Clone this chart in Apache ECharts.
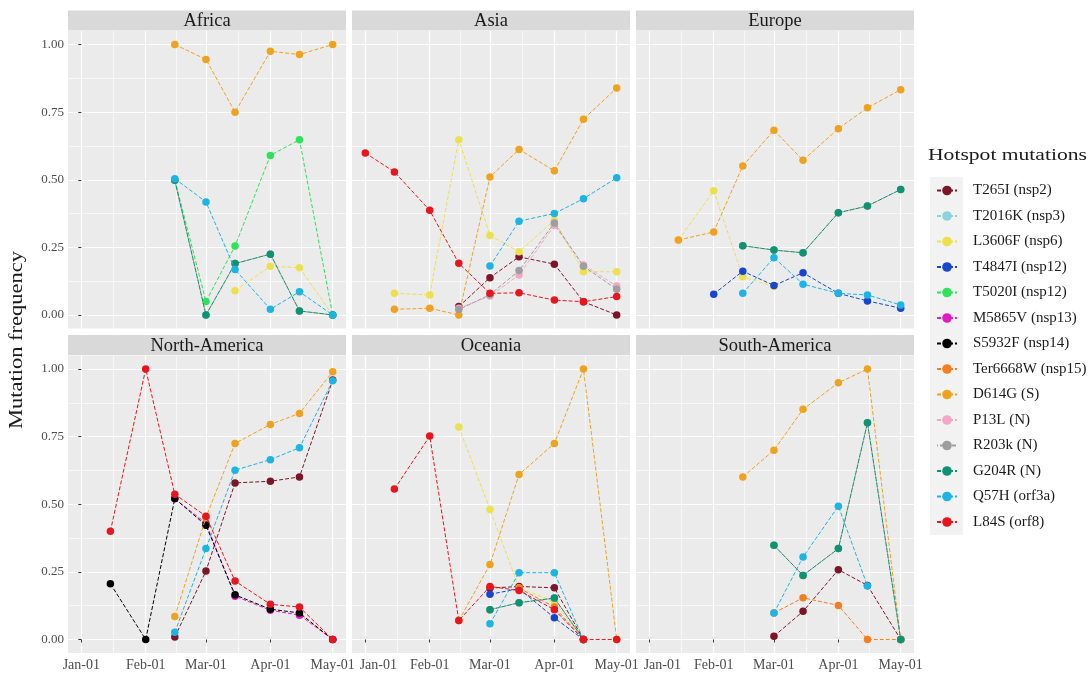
<!DOCTYPE html>
<html><head><meta charset="utf-8">
<script src="https://cdn.jsdelivr.net/npm/echarts@6/dist/echarts.min.js"></script>
<style>html,body{margin:0;padding:0;background:#fff}#c{width:1088px;height:673px}</style>
</head><body><div id="c"></div>
<script>
// Sampling dates (2020), expressed as days after Jan-01
const sampleDays = [0, 14, 31, 45, 60, 74, 91, 105, 121]; // Jan-01 Jan-15 Feb-01 Feb-15 Mar-01 Mar-15 Apr-01 Apr-15 May-01
const majorTickDays = [0, 31, 60, 91, 121];
const majorTickLabels = ['Jan-01', 'Feb-01', 'Mar-01', 'Apr-01', 'May-01'];
const minorTickDays = [15.5, 45.5, 75.5, 106];
const yTicks = [0, 0.25, 0.5, 0.75, 1];
const yMinorTicks = [0.125, 0.375, 0.625, 0.875];

const regions = ['Africa', 'Asia', 'Europe', 'North-America', 'Oceania', 'South-America'];
const mutations = ['T265I (nsp2)', 'T2016K (nsp3)', 'L3606F (nsp6)', 'T4847I (nsp12)', 'T5020I (nsp12)',
  'M5865V (nsp13)', 'S5932F (nsp14)', 'Ter6668W (nsp15)', 'D614G (S)', 'P13L (N)', 'R203k (N)',
  'G204R (N)', 'Q57H (orf3a)', 'L84S (orf8)'];
const mutationColors = ['#7E1428', '#8ED2DC', '#EDE04E', '#1745D0', '#2EE25A', '#E11BC6', '#000000',
  '#F57E22', '#F0A21E', '#F4A6C6', '#9E9E9E', '#0C9472', '#1CB4E2', '#E8141E'];

const N = null;
const africa = {
  'L3606F (nsp6)':  [N, N, N, N, N, 0.09, 0.18, 0.175, 0.0],
  'T5020I (nsp12)': [N, N, N, 0.50, 0.05, 0.255, 0.59, 0.648, 0.0],
  'D614G (S)':      [N, N, N, 1.00, 0.945, 0.75, 0.975, 0.963, 1.00],
  'R203k (N)':      [N, N, N, 0.498, 0.0, 0.19, 0.225, 0.015, 0.0],
  'G204R (N)':      [N, N, N, 0.498, 0.0, 0.19, 0.225, 0.015, 0.0],
  'Q57H (orf3a)':   [N, N, N, 0.504, 0.418, 0.168, 0.021, 0.086, 0.0]
};
const asia = {
  'T265I (nsp2)':  [N, N, N, 0.031, 0.138, 0.215, 0.188, 0.049, 0.0],
  'L3606F (nsp6)': [N, 0.08, 0.074, 0.648, 0.294, 0.234, 0.35, 0.16, 0.16],
  'D614G (S)':     [N, 0.021, 0.025, 0.0, 0.51, 0.612, 0.533, 0.724, 0.839],
  'P13L (N)':      [N, N, N, 0.025, 0.07, 0.148, 0.331, 0.185, 0.107],
  'R203k (N)':     [N, N, N, 0.02, 0.075, 0.164, 0.34, 0.18, 0.095],
  'Q57H (orf3a)':  [N, N, N, N, 0.181, 0.347, 0.375, 0.43, 0.507],
  'L84S (orf8)':   [0.599, 0.529, 0.387, 0.191, 0.08, 0.082, 0.055, 0.049, 0.068]
};
const europe = {
  'L3606F (nsp6)':  [N, 0.277, 0.459, 0.141, 0.105, N, N, N, N],
  'T4847I (nsp12)': [N, N, 0.077, 0.162, 0.109, 0.156, 0.08, 0.052, 0.025],
  'D614G (S)':      [N, 0.277, 0.307, 0.551, 0.683, 0.572, 0.689, 0.766, 0.833],
  'R203k (N)':      [N, N, N, 0.256, 0.24, 0.23, 0.378, 0.403, 0.464],
  'G204R (N)':      [N, N, N, 0.256, 0.24, 0.23, 0.378, 0.403, 0.464],
  'Q57H (orf3a)':   [N, N, N, 0.08, 0.212, 0.114, 0.08, 0.074, 0.037]
};
const northAmerica = {
  'T265I (nsp2)':   [N, N, N, 0.009, 0.253, 0.579, 0.585, 0.601, 0.959],
  'M5865V (nsp13)': [N, N, N, 0.52, 0.43, 0.16, 0.108, 0.09, 0.0],
  'S5932F (nsp14)': [N, 0.206, 0.0, 0.521, 0.422, 0.165, 0.112, 0.098, 0.0],
  'D614G (S)':      [N, N, N, 0.085, 0.451, 0.725, 0.795, 0.836, 0.99],
  'Q57H (orf3a)':   [N, N, N, 0.027, 0.336, 0.626, 0.665, 0.709, 0.957],
  'L84S (orf8)':    [N, 0.4, 1.0, 0.537, 0.456, 0.216, 0.13, 0.12, 0.0]
};
const oceania = {
  'T265I (nsp2)':     [N, N, N, N, 0.19, 0.196, 0.191, 0.0, N],
  'L3606F (nsp6)':    [N, N, N, 0.786, 0.481, 0.19, 0.14, 0.0, N],
  'T4847I (nsp12)':   [N, N, N, N, 0.167, 0.188, 0.08, 0.0, N],
  'Ter6668W (nsp15)': [N, N, N, N, N, 0.19, 0.12, 0.0, N],
  'D614G (S)':        [N, N, N, 0.07, 0.277, 0.61, 0.725, 1.0, 0.0],
  'R203k (N)':        [N, N, N, N, 0.11, 0.136, 0.153, 0.0, N],
  'G204R (N)':        [N, N, N, N, 0.11, 0.136, 0.153, 0.0, N],
  'Q57H (orf3a)':     [N, N, N, N, 0.058, 0.247, 0.247, 0.0, N],
  'L84S (orf8)':      [N, 0.556, 0.752, 0.07, 0.196, 0.181, 0.11, 0.0, 0.0]
};
const southAmerica = {
  'T265I (nsp2)':     [N, N, N, N, 0.012, 0.104, 0.258, 0.2, 0.0],
  'Ter6668W (nsp15)': [N, N, N, N, 0.098, 0.154, 0.126, 0.0, 0.0],
  'D614G (S)':        [N, N, N, 0.601, 0.7, 0.851, 0.949, 1.0, 0.0],
  'R203k (N)':        [N, N, N, N, 0.348, 0.237, 0.336, 0.801, 0.0],
  'G204R (N)':        [N, N, N, N, 0.348, 0.237, 0.336, 0.801, 0.0],
  'Q57H (orf3a)':     [N, N, N, N, 0.098, 0.305, 0.493, 0.198, N]
};
const regionData = [africa, asia, europe, northAmerica, oceania, southAmerica];

// ---- layout ----
const FONT = 'Liberation Serif';
const colLeft = [68, 352, 636];
const panelW = 278;
const rowTop = [31, 355.5];
const panelH = 297.5;
const stripH = 20;

const grids = [], xAxes = [], yAxes = [], series = [], graphics = [];

graphics.push({ type: 'rect', shape: { x: 930, y: 177, width: 33, height: 358 }, style: { fill: '#F2F2F2' }, silent: true });

regions.forEach((reg, r) => {
  const col = r % 3, row = Math.floor(r / 3);
  const left = colLeft[col], top = rowTop[row];
  grids.push({ left: left, top: top, width: panelW, height: panelH, show: true,
    backgroundColor: '#EBEBEB', borderWidth: 0, containLabel: false });
  const isBottom = row === 1, isLeft = col === 0;
  xAxes.push({ type: 'value', gridIndex: r, min: -6.4, max: 127.4, position: 'bottom',
    axisLine: { show: false },
    axisTick: { show: isBottom, customValues: majorTickDays, length: 3, lineStyle: { color: '#333', width: 1 } },
    axisLabel: { show: isBottom, customValues: majorTickDays, margin: 5, color: '#4D4D4D', fontFamily: FONT, fontSize: 14,
      formatter: v => {
        const lab = majorTickLabels[majorTickDays.indexOf(v)];
        return (v === 0 && col > 0) ? '{s|' + lab + '}' : lab;
      },
      rich: { s: { padding: [0, 0, 0, 26], fontFamily: FONT, fontSize: 14, color: '#4D4D4D' } } },
    splitLine: { show: true, lineStyle: { color: '#FFFFFF', width: 1.2 } } });
  xAxes.push({ type: 'value', gridIndex: r, min: -6.4, max: 127.4, position: 'bottom',
    axisLine: { show: false }, axisTick: { show: false, customValues: minorTickDays },
    axisLabel: { show: false, customValues: minorTickDays },
    splitLine: { show: true, lineStyle: { color: '#FFFFFF', width: 0.6 } } });
  yAxes.push({ type: 'value', gridIndex: r, min: -0.05, max: 1.05, position: 'left',
    axisLine: { show: false },
    axisTick: { show: isLeft, customValues: yTicks, length: 3, lineStyle: { color: '#333', width: 1 } },
    axisLabel: { show: isLeft, customValues: yTicks, margin: 4, color: '#4D4D4D', fontFamily: FONT, fontSize: 13,
      formatter: v => v.toFixed(2) },
    splitLine: { show: true, lineStyle: { color: '#FFFFFF', width: 1.2 } } });
  yAxes.push({ type: 'value', gridIndex: r, min: -0.05, max: 1.05, position: 'left',
    axisLine: { show: false }, axisTick: { show: false, customValues: yMinorTicks },
    axisLabel: { show: false, customValues: yMinorTicks },
    splitLine: { show: true, lineStyle: { color: '#FFFFFF', width: 0.6 } } });

  const stripTop = top - stripH - 0.5;
  graphics.push({ type: 'rect', shape: { x: left, y: stripTop, width: panelW, height: stripH },
    style: { fill: '#D9D9D9' }, silent: true });
  graphics.push({ type: 'text', x: left + panelW / 2, y: stripTop + stripH / 2 + 1,
    style: { text: reg, fill: '#1A1A1A', font: '18.5px "' + FONT + '"', align: 'center', verticalAlign: 'middle' }, silent: true });

  const data = regionData[r];
  mutations.forEach((m, k) => {
    if (!data[m]) return;
    series.push({
      name: m, type: 'line', xAxisIndex: 2 * r, yAxisIndex: 2 * r,
      data: sampleDays.map((d, i) => [d, data[m][i] === null ? '-' : data[m][i]]),
      symbol: 'circle', symbolSize: 7.5,
      itemStyle: { color: mutationColors[k] },
      lineStyle: { color: mutationColors[k], width: 1, type: [4, 2], dashOffset: m === 'R203k (N)' ? 3 : 0 },
      z: 2 + k * 0.01, silent: true, animation: false
    });
  });
});

// placeholder so every mutation appears in the legend (T2016K has no visible points)
mutations.forEach((m, k) => {
  if (!series.some(s => s.name === m)) {
    series.push({ name: m, type: 'line', xAxisIndex: 0, yAxisIndex: 0, data: [],
      symbol: 'circle', symbolSize: 7.5, itemStyle: { color: mutationColors[k] },
      lineStyle: { color: mutationColors[k], width: 1, type: [4, 2] } });
  }
});

graphics.push({ type: 'text', x: 17, y: 340, rotation: Math.PI / 2, scaleX: 1.25,
  style: { text: 'Mutation frequency', fill: '#1A1A1A', font: '18px "' + FONT + '"', align: 'center', verticalAlign: 'middle' }, silent: true });
graphics.push({ type: 'text', x: 928, y: 156, scaleX: 1.27,
  style: { text: 'Hotspot mutations', fill: '#1A1A1A', font: '17px "' + FONT + '"', align: 'left', verticalAlign: 'middle' }, silent: true });

const chart = echarts.init(document.getElementById('c'), null, { renderer: 'canvas' });
chart.setOption({
  animation: false,
  backgroundColor: '#FFFFFF',
  grid: grids, xAxis: xAxes, yAxis: yAxes, series: series,
  graphic: graphics,
  legend: {
    data: mutations, orient: 'vertical', left: 931, top: 178,
    itemWidth: 20, itemHeight: 12, itemGap: 10.5, selectedMode: false,
    textStyle: { fontFamily: FONT, fontSize: 15, color: '#1A1A1A', padding: [0, 0, 0, 11] }
  }
});
</script></body></html>
